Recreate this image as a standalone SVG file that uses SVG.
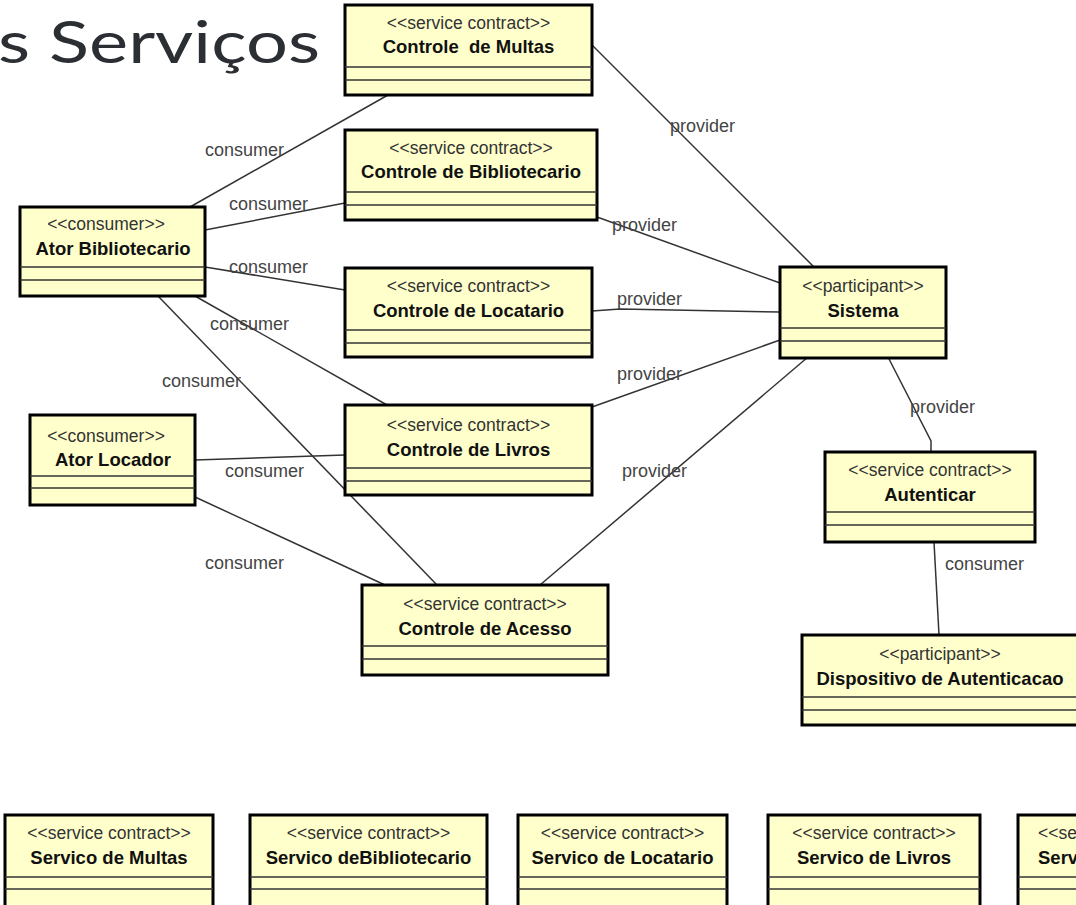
<svg xmlns="http://www.w3.org/2000/svg" width="1076" height="905" viewBox="0 0 1076 905">
<style>
.box{fill:#ffffcc;stroke:#000;stroke-width:3}
.div{stroke:#333;stroke-width:1.5}
.st{font-family:"Liberation Sans",Arial,sans-serif;font-size:17.5px;fill:#333;text-anchor:middle}
.nm{font-family:"Liberation Sans",Arial,sans-serif;font-size:18.5px;font-weight:bold;fill:#111;text-anchor:middle}
.lbl{font-family:"Liberation Sans",Arial,sans-serif;font-size:18px;fill:#444}
.con{stroke:#333;stroke-width:1.5;fill:none}
.title{font-family:Lato,"Open Sans",sans-serif;font-size:58px;fill:#2b2f33}
</style>
<rect width="1076" height="905" fill="#fff"/>
<text class="title" x="-2" y="63" textLength="322" lengthAdjust="spacingAndGlyphs">s Serviços</text>

<g id="connectors">
<polyline class="con" points="190,207 388,95"/>
<polyline class="con" points="205,230 345,203"/>
<polyline class="con" points="205,267 345,290"/>
<polyline class="con" points="195,296 387,405"/>
<polyline class="con" points="158,296 437,585"/>
<polyline class="con" points="195,460 345,455"/>
<polyline class="con" points="195,497 385,585"/>
<polyline class="con" points="592,45 815,268"/>
<polyline class="con" points="597,217 780,283"/>
<polyline class="con" points="592,311 620,309 780,312"/>
<polyline class="con" points="592,407 780,340"/>
<polyline class="con" points="540,585 808,357"/>
<polyline class="con" points="888,357 931,441 931,452"/>
<polyline class="con" points="934,542 939,635"/>
<text class="lbl" x="205" y="156">consumer</text>
<text class="lbl" x="229" y="210">consumer</text>
<text class="lbl" x="229" y="273">consumer</text>
<text class="lbl" x="210" y="330">consumer</text>
<text class="lbl" x="162" y="387">consumer</text>
<text class="lbl" x="225" y="477">consumer</text>
<text class="lbl" x="205" y="569">consumer</text>
<text class="lbl" x="670" y="132">provider</text>
<text class="lbl" x="612" y="231">provider</text>
<text class="lbl" x="617" y="305">provider</text>
<text class="lbl" x="617" y="380">provider</text>
<text class="lbl" x="622" y="477">provider</text>
<text class="lbl" x="910" y="413">provider</text>
<text class="lbl" x="945" y="570">consumer</text>
</g>

<g id="controle-multas">
<rect class="box" x="345" y="5" width="247" height="90"/>
<line class="div" x1="345" y1="67" x2="592" y2="67"/><line class="div" x1="345" y1="80" x2="592" y2="80"/>
<text class="st" x="468.5" y="29">&lt;&lt;service contract&gt;&gt;</text>
<text class="nm" x="468.5" y="53" xml:space="preserve">Controle  de Multas</text>
</g>
<g id="controle-bibliotecario">
<rect class="box" x="345" y="130" width="252" height="90"/>
<line class="div" x1="345" y1="192" x2="597" y2="192"/><line class="div" x1="345" y1="205" x2="597" y2="205"/>
<text class="st" x="471" y="154">&lt;&lt;service contract&gt;&gt;</text>
<text class="nm" x="471" y="178">Controle de Bibliotecario</text>
</g>
<g id="ator-bibliotecario">
<rect class="box" x="20" y="207" width="185" height="89"/>
<line class="div" x1="20" y1="267" x2="205" y2="267"/><line class="div" x1="20" y1="280" x2="205" y2="280"/>
<text class="st" x="106" y="230">&lt;&lt;consumer&gt;&gt;</text>
<text class="nm" x="113" y="255">Ator Bibliotecario</text>
</g>
<g id="controle-locatario">
<rect class="box" x="345" y="268" width="247" height="89"/>
<line class="div" x1="345" y1="330" x2="592" y2="330"/><line class="div" x1="345" y1="343" x2="592" y2="343"/>
<text class="st" x="468.5" y="292">&lt;&lt;service contract&gt;&gt;</text>
<text class="nm" x="468.5" y="317">Controle de Locatario</text>
</g>
<g id="sistema">
<rect class="box" x="780" y="267" width="166" height="91"/>
<line class="div" x1="780" y1="328" x2="946" y2="328"/><line class="div" x1="780" y1="341" x2="946" y2="341"/>
<text class="st" x="863" y="292">&lt;&lt;participant&gt;&gt;</text>
<text class="nm" x="863" y="317">Sistema</text>
</g>
<g id="ator-locador">
<rect class="box" x="30" y="415" width="165" height="90"/>
<line class="div" x1="30" y1="476" x2="195" y2="476"/><line class="div" x1="30" y1="488" x2="195" y2="488"/>
<text class="st" x="106" y="442">&lt;&lt;consumer&gt;&gt;</text>
<text class="nm" x="113" y="466">Ator Locador</text>
</g>
<g id="controle-livros">
<rect class="box" x="345" y="405" width="247" height="90"/>
<line class="div" x1="345" y1="468" x2="592" y2="468"/><line class="div" x1="345" y1="481" x2="592" y2="481"/>
<text class="st" x="468.5" y="431">&lt;&lt;service contract&gt;&gt;</text>
<text class="nm" x="468.5" y="456">Controle de Livros</text>
</g>
<g id="autenticar">
<rect class="box" x="825" y="452" width="210" height="90"/>
<line class="div" x1="825" y1="512" x2="1035" y2="512"/><line class="div" x1="825" y1="525" x2="1035" y2="525"/>
<text class="st" x="930" y="476">&lt;&lt;service contract&gt;&gt;</text>
<text class="nm" x="930" y="501">Autenticar</text>
</g>
<g id="controle-acesso">
<rect class="box" x="362" y="585" width="246" height="90"/>
<line class="div" x1="362" y1="646" x2="608" y2="646"/><line class="div" x1="362" y1="659" x2="608" y2="659"/>
<text class="st" x="485" y="610">&lt;&lt;service contract&gt;&gt;</text>
<text class="nm" x="485" y="635">Controle de Acesso</text>
</g>
<g id="dispositivo-autenticacao">
<rect class="box" x="802" y="635" width="280" height="90"/>
<line class="div" x1="802" y1="697" x2="1082" y2="697"/><line class="div" x1="802" y1="710" x2="1082" y2="710"/>
<text class="st" x="940" y="660">&lt;&lt;participant&gt;&gt;</text>
<text class="nm" x="940" y="685">Dispositivo de Autenticacao</text>
</g>

<g id="servico-multas">
<rect class="box" x="5" y="815" width="208" height="100"/>
<line class="div" x1="5" y1="877" x2="213" y2="877"/><line class="div" x1="5" y1="889" x2="213" y2="889"/>
<text class="st" x="109" y="839">&lt;&lt;service contract&gt;&gt;</text>
<text class="nm" x="109" y="864">Servico de Multas</text>
</g>
<g id="servico-bibliotecario">
<rect class="box" x="250" y="815" width="237" height="100"/>
<line class="div" x1="250" y1="877" x2="487" y2="877"/><line class="div" x1="250" y1="889" x2="487" y2="889"/>
<text class="st" x="368.5" y="839">&lt;&lt;service contract&gt;&gt;</text>
<text class="nm" x="368.5" y="864">Servico deBibliotecario</text>
</g>
<g id="servico-locatario">
<rect class="box" x="518" y="815" width="209" height="100"/>
<line class="div" x1="518" y1="877" x2="727" y2="877"/><line class="div" x1="518" y1="889" x2="727" y2="889"/>
<text class="st" x="622.5" y="839">&lt;&lt;service contract&gt;&gt;</text>
<text class="nm" x="622.5" y="864">Servico de Locatario</text>
</g>
<g id="servico-livros">
<rect class="box" x="768" y="815" width="212" height="100"/>
<line class="div" x1="768" y1="877" x2="980" y2="877"/><line class="div" x1="768" y1="889" x2="980" y2="889"/>
<text class="st" x="874" y="839">&lt;&lt;service contract&gt;&gt;</text>
<text class="nm" x="874" y="864">Servico de Livros</text>
</g>
<g id="servico-cut">
<rect class="box" x="1018" y="815" width="80" height="100"/>
<line class="div" x1="1018" y1="877" x2="1098" y2="877"/><line class="div" x1="1018" y1="889" x2="1098" y2="889"/>
<text class="st" x="1038" y="839" style="text-anchor:start">&lt;&lt;se</text>
<text class="nm" x="1038" y="864" style="text-anchor:start">Serv</text>
</g>
</svg>
